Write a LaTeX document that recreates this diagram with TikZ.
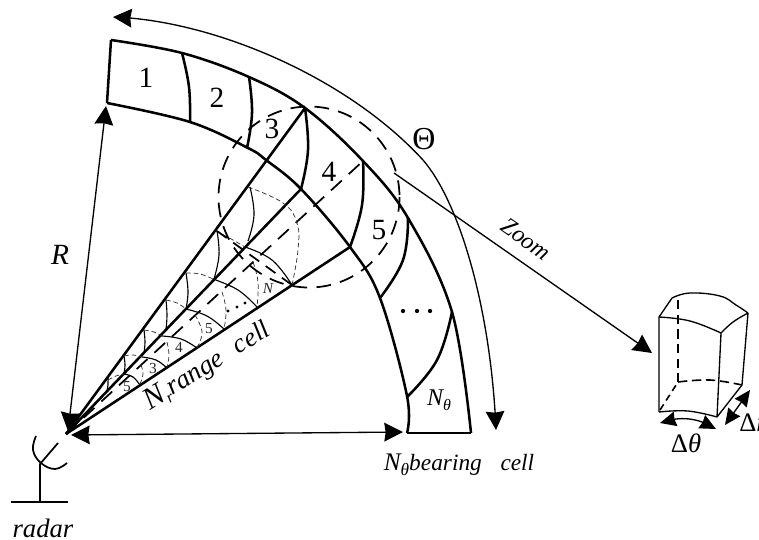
\documentclass[tikz,border=0pt]{standalone}
\usepackage{fontspec}
\setmainfont{Liberation Serif}
\usetikzlibrary{arrows.meta,bending}
\tikzset{
  heavy/.style={line width=1.9pt,line join=miter},
  thinsolid/.style={line width=1pt},
  hair/.style={line width=0.85pt},
  longdash/.style={line width=1.3pt,dash pattern=on 11pt off 7pt},
  finedash/.style={line width=0.55pt,dash pattern=on 3.5pt off 2.2pt,black!80},
  bigtip/.style={{Stealth[length=14pt,width=14pt,inset=1pt]}-{Stealth[length=14pt,width=14pt,inset=1pt]}},
  endtip/.style={-{Stealth[length=14pt,width=14pt,inset=1pt]}},
  bothcurve/.style={{Stealth[length=14pt,width=14pt,inset=1pt,flex]}-{Stealth[length=14pt,width=14pt,inset=1pt,flex]}},
  smalltip/.style={{Stealth[length=12pt,width=11pt,inset=0.8pt,flex]}-{Stealth[length=12pt,width=11pt,inset=0.8pt,flex]}},
  lab/.style={font=\fontsize{20}{22}\selectfont\itshape,inner sep=0pt},
  num/.style={font=\fontsize{22}{24}\selectfont,inner sep=0pt},
  tiny/.style={font=\fontsize{11.5}{13}\selectfont,inner sep=0pt,black!85},
  dot/.style={circle,fill=black,inner sep=0pt,minimum size=3.2pt}
}
\begin{document}
\begin{tikzpicture}[x=0.75pt,y=-0.75pt]
\useasboundingbox (0,0) rectangle (759,539);
\clip (0,0) rectangle (759,539);
\fill[white] (0,0) rectangle (759,539);
% apex and rim points
\coordinate (O) at (66,434);
\coordinate (A) at (305,108);
\coordinate (B) at (301,189);
\coordinate (C) at (350,247);
\coordinate (D) at (363,161);
\coordinate (Rt) at (106,106);
\coordinate (Rb) at (68,431);
\coordinate (Bl) at (71,435);
\coordinate (Bt) at (403,432);
\coordinate (Zs) at (394,173);
\coordinate (Ze) at (652,353);
\coordinate (Ts) at (113,17);
\coordinate (Tm) at (423,160);
\coordinate (Te) at (496,430);
% outer band
\draw[heavy] (107,103) -- (111,40);
\draw[heavy] plot[smooth,tension=0.6] coordinates {(111,40) (182,53) (249,77) (305,108) (363,161) (408,218) (452,312) (471,433)};
\draw[heavy] (471,433) -- (407,433);
\draw[heavy] plot[smooth,tension=0.6] coordinates {(107,103) (190,122) (248,148) (266,160) (301,189) (350,247) (380,298) (407,396) (407,433)};
% dividers
\foreach \a/\b/\c in {{182,53}/{189,87}/{190,122},{249,77}/{252,113}/{247,148},{305,108}/{308,150}/{301,189},{363,161}/{362,205}/{350,247},{408,218}/{403,260}/{380,298},{452,312}/{437,360}/{407,397}}
  \draw[heavy] plot[smooth,tension=0.7] coordinates {(\a) (\b) (\c)};
% radial lines
\draw[heavy] (O) -- (A);
\draw[heavy] (O) -- (B);
\draw[heavy] (O) -- (C);
\draw[longdash] (O) -- (D);
% inner thin arcs between upper rays
\foreach \a/\b/\c in {{250,187}/{254,215}/{248,241},{217,231}/{219,255}/{214,279},{186,273}/{188,292}/{186,309},{166,300}/{167,315}/{166,330},{144,330}/{145,342}/{144,353},{124,356}/{125,365}/{124,374},{108,378}/{108,385}/{107,391}}
  \draw[hair] plot[smooth,tension=0.7] coordinates {(\a) (\b) (\c)};
% solid arcs between axis side and lower ray
\foreach \a/\b/\c in {{245,247}/{272,260}/{292,285},{213,279}/{238,290}/{257,307},{186,309}/{207,316}/{224,329},{162,336}/{181,339}/{197,348},{142,357}/{156,360}/{167,368},{124,374}/{133,377}/{140,385}}
  \draw[hair] plot[smooth,tension=0.7] coordinates {(\a) (\b) (\c)};
% fine dashed arcs
\draw[finedash] plot[smooth,tension=0.7] coordinates {(248,187) (283,203) (297,223) (298,250) (292,285)};
\draw[finedash] plot[smooth,tension=0.7] coordinates {(216,231) (233,240) (245,247)};
\foreach \a/\b/\c in {{186,273}/{200,274}/{213,279},{166,300}/{177,303}/{186,309},{144,330}/{154,332}/{162,336},{124,356}/{133,355}/{142,357},{108,380}/{116,376}/{124,374},{253,262}/{258,282}/{257,307},{222,292}/{226,310}/{224,329},{195,315}/{202,332}/{197,348},{167,342}/{169,355}/{167,367},{141,365}/{143,374}/{140,384}}
  \draw[finedash] plot[smooth,tension=0.7] coordinates {(\a) (\b) (\c)};
% zoom circle and chord
\draw[longdash] (309,197) circle[radius=90.5];
\draw[line width=1.3pt,dash pattern=on 9pt off 6pt] (217,231) -- (292,285);
% big angle arrow
\draw[thinsolid,bothcurve] (Ts) .. controls (210,20) and (345,75) .. (Tm) .. controls (460,203) and (491,310) .. (Te);
% dimension arrows
\draw[thinsolid,bigtip] (Rt) -- (Rb);
\draw[thinsolid,bigtip] (Bl) -- (Bt);
% zoom arrow
\draw[thinsolid,endtip] (Zs) -- (Ze);
\node[lab,font=\fontsize{18}{20}\selectfont\itshape,rotate=-35] (ztext) at (526,239) {Zoom};
% labels on the band
\node[num] (n1) at (146,78) {1};
\node[num] (n2) at (217,98) {2};
\node[num] (n3) at (272,129) {3};
\node[num] (n4) at (329,172) {4};
\node[num] (n5) at (379,230) {5};
\node[dot] (d1) at (403,311) {};
\node[dot] (d2) at (417,311) {};
\node[dot] (d3) at (430,311) {};
\node[lab,font=\fontsize{18}{19}\selectfont\itshape] (nth) at (439,400) {N\raisebox{-0.5ex}{\fontsize{12}{13}\selectfont θ}};
\node[num,font=\fontsize{24}{26}\selectfont] (th) at (424,139) {Θ};
\node[lab,font=\fontsize{22}{24}\selectfont\itshape] (rr) at (60,255) {R};
% small labels
\node[tiny] (s3) at (153,368) {3};
\node[tiny] (s4) at (179,347) {4};
\node[tiny] (s5) at (209,329) {5};
\node[tiny] (s6) at (127,387) {5};
\node[dot,minimum size=2.6pt] (e1) at (228,311) {};
\node[dot,minimum size=2.6pt] (e2) at (237,307) {};
\node[dot,minimum size=2.6pt] (e3) at (245,303) {};
\node[tiny,font=\fontsize{11.5}{13}\selectfont\itshape] (sn) at (268,288) {N};
% axis labels
\node[lab,rotate=32] (rng) at (207,366) {{\fontsize{23}{24}\selectfont N}\raisebox{-0.4ex}{\fontsize{12}{13}\selectfont r}range\hspace{0.6em}cell};
\node[lab,font=\fontsize{17.5}{19}\selectfont\itshape] (brg) at (459,465) {{\fontsize{19}{20}\selectfont N}\raisebox{-0.5ex}{\fontsize{13}{14}\selectfont θ}bearing\hspace{0.8em}cell};
\node[lab] (rad) at (43,528) {radar};
% radar
\coordinate (Rf) at (40,464);
\draw[line width=1.3pt] plot[smooth,tension=0.7] coordinates {(36,436) (33,450) (41,463) (55,469) (67,463)};
\draw[line width=1.3pt] (58,443) -- (Rf) -- (40,502);
\draw[line width=1.1pt] (11,502) -- (68,502);
% zoomed cell
\draw[thinsolid] (659,412) -- (659,317) -- (672,298);
\draw[thinsolid] (717,417) -- (721,333);
\draw[thinsolid] (742,385) -- (748,313);
\draw[thinsolid] plot[smooth,tension=0.7] coordinates {(659,317) (690,321) (721,333)};
\draw[thinsolid] plot[smooth,tension=0.7] coordinates {(721,333) (733,322) (748,313)};
\draw[thinsolid] plot[smooth,tension=0.7] coordinates {(672,298) (690,293) (720,296) (736,305) (748,313)};
\draw[thinsolid] plot[smooth,tension=0.7] coordinates {(659,412) (688,411) (717,417)};
\draw[thinsolid] (717,417) -- (742,385);
\draw[line width=1.2pt,dash pattern=on 7pt off 4pt] (678,300) -- (678,382);
\draw[line width=1.2pt,dash pattern=on 5pt off 3.5pt] (660,410) -- (678,382);
\draw[line width=1.2pt,dash pattern=on 7pt off 3.5pt] plot[smooth,tension=0.7] coordinates {(678,382) (710,380) (742,385)};
% delta arrows
\coordinate (Ta) at (660,423);
\coordinate (Tb) at (716,429);
\draw[thinsolid,smalltip] (Ta) .. controls (678,416) and (698,417) .. (Tb);
\coordinate (Ra) at (750,390);
\coordinate (Rc) at (725,425);
\draw[thinsolid,smalltip] (Ra) -- (Rc);
\node[lab] (dth) at (686,443) {\upshape Δ\itshape θ};
\node[lab,anchor=west] (drr) at (739,423) {\upshape Δ\itshape r};
\end{tikzpicture}
\end{document}
